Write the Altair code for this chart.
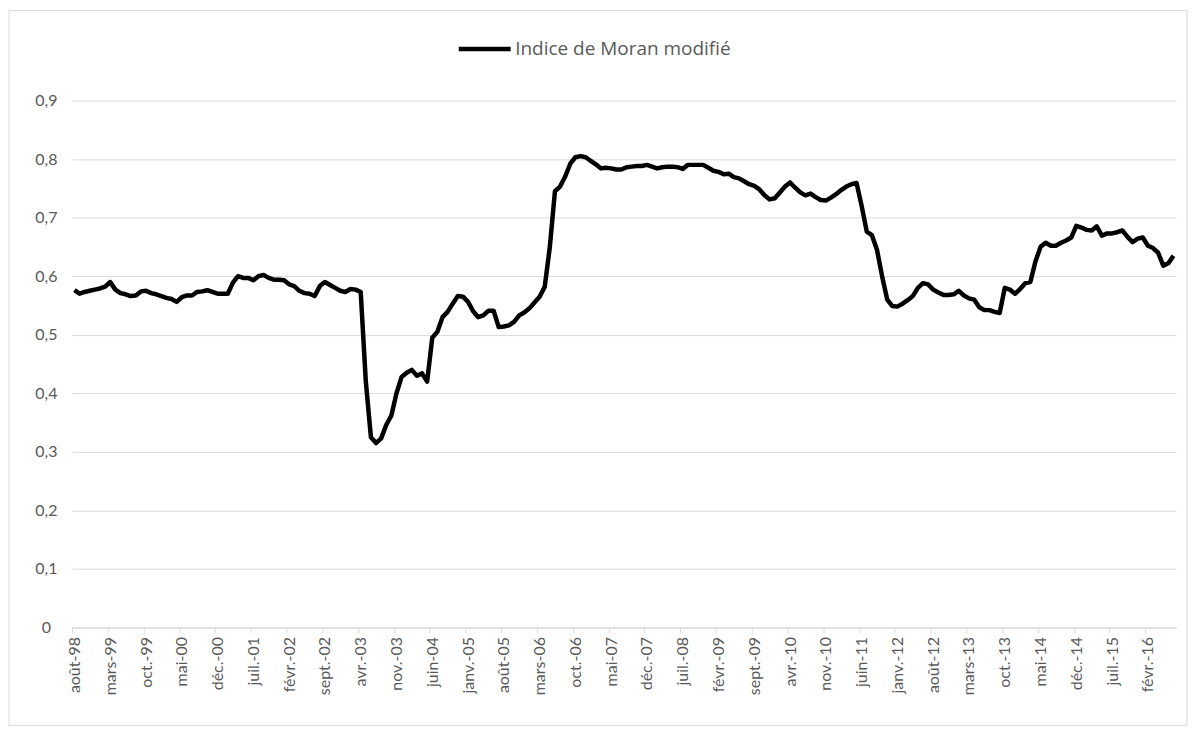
import altair as alt
import pandas as pd

# Monthly values, août-98 .. juil.-16 (216 months)
values = [
    0.576, 0.570, 0.573, 0.575, 0.577, 0.579, 0.582, 0.590, 0.577, 0.571,
    0.569, 0.566, 0.567, 0.574, 0.575, 0.571, 0.569, 0.566, 0.563, 0.561,
    0.556, 0.564, 0.567, 0.567, 0.573, 0.574, 0.576, 0.573, 0.570, 0.570,
    0.570, 0.589, 0.600, 0.597, 0.597, 0.593, 0.600, 0.602, 0.597, 0.594,
    0.594, 0.593, 0.586, 0.583, 0.575, 0.571, 0.570, 0.566, 0.583, 0.590,
    0.585, 0.580, 0.575, 0.573, 0.578, 0.577, 0.573, 0.420, 0.325, 0.315,
    0.323, 0.346, 0.362, 0.400, 0.428, 0.435, 0.440, 0.430, 0.434, 0.420,
    0.495, 0.505, 0.530, 0.539, 0.553, 0.566, 0.565, 0.556, 0.540, 0.530,
    0.533, 0.541, 0.541, 0.513, 0.514, 0.516, 0.522, 0.533, 0.538, 0.545,
    0.555, 0.565, 0.582, 0.650, 0.745, 0.753, 0.770, 0.792, 0.803, 0.805,
    0.803, 0.797, 0.791, 0.784, 0.785, 0.784, 0.782, 0.782, 0.786, 0.787,
    0.788, 0.788, 0.790, 0.787, 0.784, 0.786, 0.787, 0.787, 0.786, 0.783,
    0.790, 0.790, 0.790, 0.790, 0.785, 0.780, 0.778, 0.774, 0.775, 0.769,
    0.767, 0.762, 0.757, 0.754, 0.748, 0.738, 0.731, 0.733, 0.743, 0.753,
    0.760, 0.751, 0.743, 0.738, 0.741, 0.735, 0.730, 0.729, 0.734, 0.740,
    0.747, 0.753, 0.757, 0.759, 0.720, 0.676, 0.670, 0.645, 0.600, 0.560,
    0.549, 0.548, 0.553, 0.559, 0.566, 0.580, 0.588, 0.586, 0.577, 0.572,
    0.568, 0.568, 0.569, 0.575, 0.567, 0.562, 0.560, 0.547, 0.542, 0.542,
    0.539, 0.537, 0.580, 0.577, 0.570, 0.578, 0.588, 0.590, 0.625, 0.650,
    0.657, 0.652, 0.652, 0.657, 0.661, 0.666, 0.686, 0.683, 0.679, 0.678,
    0.685, 0.669, 0.673, 0.673, 0.675, 0.678, 0.667, 0.658, 0.664, 0.666,
    0.652, 0.648, 0.640, 0.618, 0.622, 0.635,
]

tick_labels = [
    "août-98", "mars-99", "oct.-99", "mai-00", "déc.-00", "juil.-01",
    "févr.-02", "sept.-02", "avr.-03", "nov.-03", "juin-04", "janv.-05",
    "août-05", "mars-06", "oct.-06", "mai-07", "déc.-07", "juil.-08",
    "févr.-09", "sept.-09", "avr.-10", "nov.-10", "juin-11", "janv.-12",
    "août-12", "mars-13", "oct.-13", "mai-14", "déc.-14", "juil.-15",
    "févr.-16",
]

y_ticks = [0.0, 0.1, 0.2, 0.3, 0.4, 0.5, 0.6, 0.7, 0.8, 0.9]

series_name = "Indice de Moran modifié"
label_step = 7
n_months = len(values)

df = pd.DataFrame({
    "t": [i + 0.5 for i in range(n_months)],
    "v": values,
    "s": [series_name] * n_months,
})

W, H = 1106, 528
FONT = "Lato"
GRAY = "#d9d9d9"
TXT = "#595959"

xscale = alt.Scale(domain=[0, n_months], nice=False, zero=False)
yscale = alt.Scale(domain=[0, 0.9], nice=False)

tick_vals = [i * label_step for i in range(len(tick_labels))]
label_vals = [i * label_step + 0.5 for i in range(len(tick_labels))]
label_js = "[" + ",".join("'" + s + "'" for s in tick_labels) + "]"

yaxis = alt.Axis(values=y_ticks, domain=False, ticks=False, grid=True,
                 gridColor=GRAY, labelAlign="center", labelPadding=26,
                 labelExpr="datum.value == 0 ? '0' : replace(format(datum.value, '.1f'), '.', ',')")

line = alt.Chart(df).mark_line(strokeWidth=4.5, strokeJoin="round").encode(
    x=alt.X("t:Q", scale=xscale, title=None,
            axis=alt.Axis(orient="bottom", values=tick_vals, labels=False,
                          tickSize=5, tickColor=GRAY, domainColor=GRAY,
                          grid=False)),
    y=alt.Y("v:Q", scale=yscale, title=None, axis=yaxis),
    color=alt.Color("s:N", scale=alt.Scale(range=["#000000"]), title=None,
                    legend=alt.Legend(orient="none", legendX=385, legendY=-80,
                                      symbolType="stroke", symbolSize=2704,
                                      symbolStrokeWidth=4.5, labelFontSize=19,
                                      labelFont="Open Sans", labelColor=TXT,
                                      labelLimit=600, labelOffset=2)),
)

labels_layer = alt.Chart(df).mark_line(opacity=0).encode(
    x=alt.X("t:Q", scale=xscale, title=None,
            axis=alt.Axis(orient="bottom", values=label_vals, ticks=False,
                          domain=False, grid=False, labelAngle=270,
                          labelPadding=9,
                          labelExpr=label_js + "[floor(datum.value / 7)]")),
    y=alt.Y("v:Q", scale=yscale, title=None, axis=yaxis),
)

frame = alt.Chart(pd.DataFrame({"a": [0]})).mark_rect(
    fill=None, stroke=GRAY, strokeWidth=1
).encode(
    x=alt.value(-63), x2=alt.value(1117), y=alt.value(-90), y2=alt.value(626)
)

chart = alt.layer(frame, line, labels_layer).resolve_axis(x="independent").properties(
    width=W, height=H,
    autosize=alt.AutoSizeParams(type="none"),
    padding={"left": 64, "top": 92, "right": 12, "bottom": 100},
).configure_view(stroke=None).configure_axis(
    labelFont=FONT, labelFontSize=16, labelColor=TXT,
)

chart.save("out.html", embed_options={"renderer": "svg", "actions": False})
